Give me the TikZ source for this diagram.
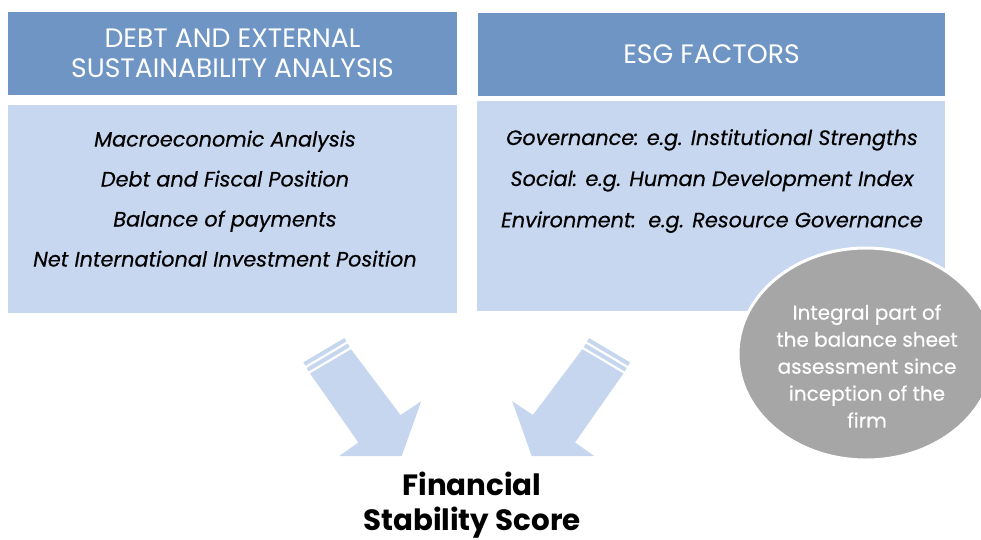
\documentclass[tikz,border=0pt]{standalone}
\usepackage{fontspec}
\setmainfont{Poppins}
\usetikzlibrary{shapes.geometric}
\definecolor{headblue}{RGB}{111,149,196}
\definecolor{bodyblue}{RGB}{198,215,239}
\definecolor{arrowblue}{RGB}{197,214,238}
\definecolor{notegray}{RGB}{166,166,166}
\begin{document}
\begin{tikzpicture}[x=0.75pt,y=-0.75pt,
   head/.style={rectangle,fill=headblue,text=white,align=center,inner sep=0pt,minimum height=62.25pt,font=\fontsize{20}{22.5}\selectfont},
   panel/.style={rectangle,fill=bodyblue,inner sep=0pt},
   item/.style={anchor=base,font=\fontsize{15.6}{18}\selectfont\itshape\addfontfeature{FakeBold=0.4}},
   note/.style={text=white,align=center,font=\fontsize{15}{20.25}\selectfont\addfontfeature{FakeBold=0.4}},
   score/.style={align=center,font=\fontsize{22}{26.25}\selectfont\bfseries}]
   \useasboundingbox (0,0) rectangle (981,539);
   \clip (0,0) rectangle (981,539);
   \node (debthead) at (232.5,53.5) [head,minimum width=336.75pt] {DEBT AND EXTERNAL\\SUSTAINABILITY ANALYSIS};
   \node (esghead) at (711.5,54.5) [head,minimum width=350.25pt] {ESG FACTORS};
   \node (debtbody) at (232.5,209) [panel,minimum width=336.75pt,minimum height=156pt] {};
   \node (esgbody) at (711,206) [panel,minimum width=351pt,minimum height=157.5pt] {};
   \node (macro) at (225,146.5) [item] {Macroeconomic Analysis};
   \node (fiscal) at (225,186.5) [item] {Debt and Fiscal Position};
   \node (bop) at (225,226.5) [item] {Balance of payments};
   \node (niip) at (225,266.5) [item] {Net International Investment Position};
   \node (gov) at (712,145) [item] {Governance: e.g. Institutional Strengths};
   \node (social) at (712,186) [item] {Social: e.g. Human Development Index};
   \node (env) at (712,227.3) [item] {Environment:\ \ e.g. Resource Governance};
   \node (integral) at (866,354) [ellipse,fill=notegray,draw=white,line width=2.25pt,minimum width=192pt,minimum height=159pt] {};
   \node (integraltext) at (867,366) [note] {Integral part of\\the balance sheet\\assessment since\\inception of the\\firm};
   \begin{scope}
      \fill[arrowblue] (310,373.5) -- (351,349.2) -- (400.5,415) -- (421.2,401.2) -- (401.7,456) -- (339.2,456) -- (358.4,442.5) -- cycle;
      \fill[arrowblue] (308.7,371.4) -- ++(41,-24.3) -- ++(-2.04,-3.44) -- ++(-41,24.3) -- cycle;
      \fill[arrowblue] (305.4,365.8) -- ++(41,-24.3) -- ++(-2.04,-3.44) -- ++(-41,24.3) -- cycle;
   \end{scope}
   \begin{scope}[shift={(933.4,0)},xscale=-1]
      \fill[arrowblue] (310,373.5) -- (351,349.2) -- (400.5,415) -- (421.2,401.2) -- (401.7,456) -- (339.2,456) -- (358.4,442.5) -- cycle;
      \fill[arrowblue] (308.7,371.4) -- ++(41,-24.3) -- ++(-2.04,-3.44) -- ++(-41,24.3) -- cycle;
      \fill[arrowblue] (305.4,365.8) -- ++(41,-24.3) -- ++(-2.04,-3.44) -- ++(-41,24.3) -- cycle;
   \end{scope}
   \node (score) at (472,505) [score] {Financial\\Stability Score};
\end{tikzpicture}
\end{document}
